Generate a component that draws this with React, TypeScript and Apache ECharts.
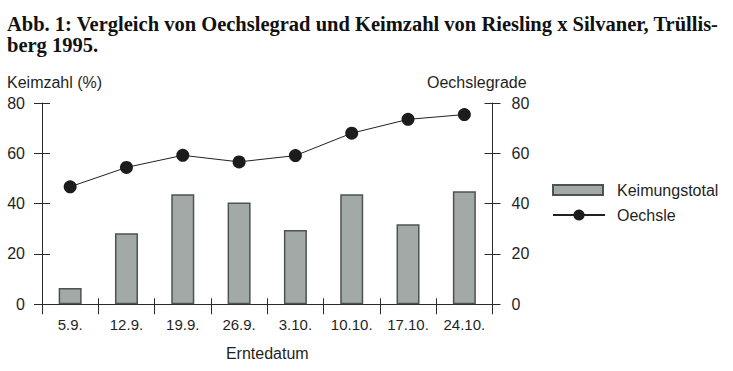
import React, { useEffect, useRef } from "react";
import * as echarts from "echarts";

const titleText = "Abb. 1: Vergleich von Oechslegrad und Keimzahl von Riesling x Silvaner, Trüllis-\nberg 1995.";
const categories = ["5.9.", "12.9.", "19.9.", "26.9.", "3.10.", "10.10.", "17.10.", "24.10."];
const keimungstotal = [6.5, 28.2, 43.7, 40.5, 29.5, 43.7, 31.8, 44.9];
const oechsle = [46.7, 54.4, 59.2, 56.6, 59.1, 68.0, 73.5, 75.4];
const leftAxisName = "Keimzahl (%)";
const rightAxisName = "Oechslegrade";
const xAxisName = "Erntedatum";
const barName = "Keimungstotal";
const lineName = "Oechsle";

const SANS = "'Liberation Sans', Arial, sans-serif";
const INK = "#1f1f1f";

export default function App() {
  const ref = useRef<HTMLDivElement>(null);
  useEffect(() => {
    document.body.style.margin = "0";
    const chart = echarts.init(ref.current!, null, { renderer: "svg" });
    const yBase = {
      type: "value",
      min: 0,
      max: 80,
      interval: 20,
      splitLine: { show: false },
    };
    chart.setOption({
      animation: false,
      backgroundColor: "#ffffff",
      title: [
        {
          text: titleText,
          left: 7,
          top: 14,
          padding: 0,
          textStyle: {
            fontFamily: "'Liberation Serif', 'Times New Roman', serif",
            fontWeight: "bold",
            fontSize: 20.5,
            lineHeight: 20.5,
            color: "#111",
          },
        },
        {
          text: leftAxisName,
          left: 7,
          top: 74,
          padding: 0,
          textStyle: { fontFamily: SANS, fontWeight: "normal", fontSize: 16, lineHeight: 16, color: INK },
        },
        {
          text: rightAxisName,
          left: 427,
          top: 74,
          padding: 0,
          textStyle: { fontFamily: SANS, fontWeight: "normal", fontSize: 16, lineHeight: 16, color: INK },
        },
      ],
      legend: [
        {
          data: [{ name: barName, icon: "rect" }],
          orient: "vertical",
          left: 552,
          top: 182,
          padding: 0,
          itemWidth: 50,
          itemHeight: 10,
          textStyle: { fontFamily: SANS, fontSize: 16, color: INK, padding: [0, 0, 0, 9] },
        },
        {
          data: [lineName],
          orient: "vertical",
          left: 552,
          top: 207,
          padding: 0,
          itemWidth: 52,
          itemHeight: 14,
          textStyle: { fontFamily: SANS, fontSize: 16, color: INK, padding: [0, 0, 0, 7] },
        },
      ],
      grid: { left: 42, right: 240.5, top: 103, bottom: 66.7, containLabel: false },
      xAxis: [
        {
          type: "category",
          data: categories,
          position: "bottom",
          boundaryGap: true,
          axisLine: { show: true, lineStyle: { color: "#2a2a2a", width: 1 } },
          axisTick: { show: true, inside: false, length: 10, alignWithLabel: false, lineStyle: { color: "#2a2a2a" } },
          axisLabel: { margin: 13, fontFamily: SANS, fontSize: 15, color: INK },
          name: xAxisName,
          nameLocation: "middle",
          nameGap: 41,
          nameTextStyle: { fontFamily: SANS, fontSize: 16, color: INK },
        },
        {
          type: "category",
          data: categories,
          position: "bottom",
          boundaryGap: true,
          axisLine: { show: false },
          axisTick: { show: true, inside: true, length: 6, lineStyle: { color: "#2a2a2a" } },
          axisLabel: { show: false },
        },
      ],
      yAxis: [
        {
          ...yBase,
          position: "left",
          axisLine: { show: true, lineStyle: { color: "#2a2a2a", width: 1 } },
          axisTick: { show: true, inside: false, length: 8, lineStyle: { color: "#2a2a2a" } },
          axisLabel: { margin: 17, fontFamily: SANS, fontSize: 16, color: INK },
        },
        {
          ...yBase,
          position: "right",
          axisLine: { show: true, lineStyle: { color: "#2a2a2a", width: 1 } },
          axisTick: { show: true, inside: false, length: 8, lineStyle: { color: "#2a2a2a" } },
          axisLabel: { margin: 19, fontFamily: SANS, fontSize: 16, color: INK },
        },
        {
          ...yBase,
          position: "left",
          axisLine: { show: false },
          axisTick: { show: true, inside: true, length: 8, lineStyle: { color: "#2a2a2a" } },
          axisLabel: { show: false },
        },
        {
          ...yBase,
          position: "right",
          axisLine: { show: false },
          axisTick: { show: true, inside: true, length: 8, lineStyle: { color: "#2a2a2a" } },
          axisLabel: { show: false },
        },
      ],
      series: [
        {
          name: barName,
          type: "bar",
          xAxisIndex: 0,
          yAxisIndex: 0,
          data: keimungstotal,
          barWidth: 23,
          itemStyle: { color: "#a3a9a7", borderColor: "#4e5351", borderWidth: 1.5 },
        },
        {
          name: lineName,
          type: "line",
          xAxisIndex: 0,
          yAxisIndex: 1,
          data: oechsle,
          symbol: "circle",
          symbolSize: 13,
          lineStyle: { color: "#222", width: 1 },
          itemStyle: { color: "#1c1c1c" },
          z: 3,
        },
      ],
    });
    return () => chart.dispose();
  }, []);
  return <div ref={ref} style={{ width: 733, height: 371 }} />;
}
